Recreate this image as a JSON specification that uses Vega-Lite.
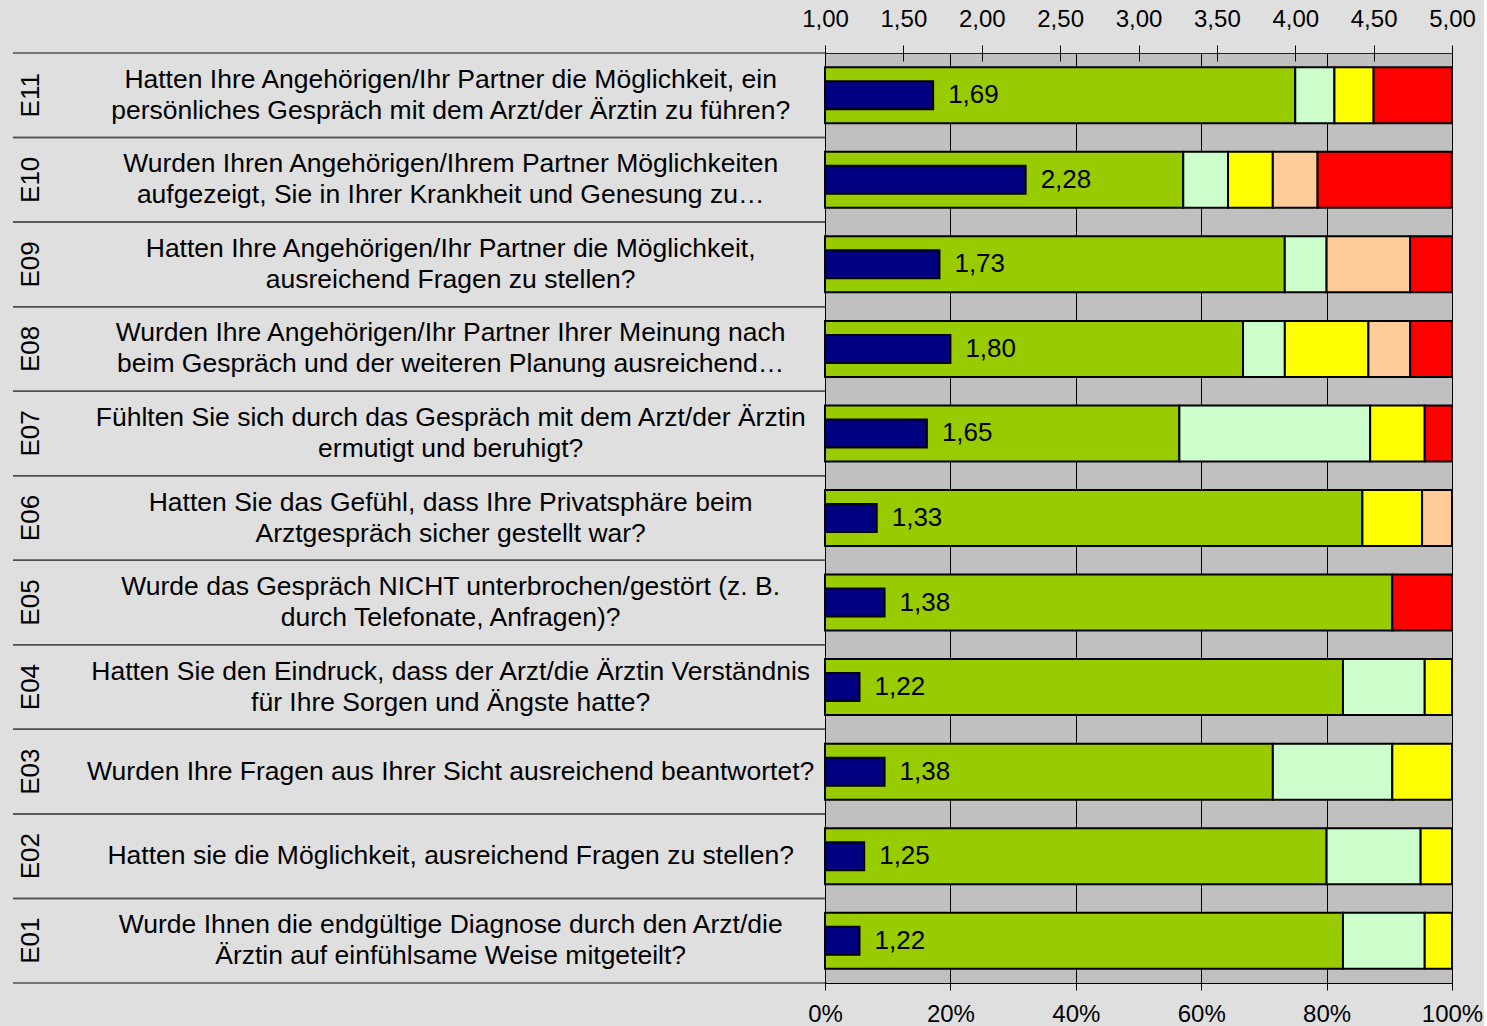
{
  "$schema": "https://vega.github.io/schema/vega-lite/v6.json",
  "background": "#dfdfdf",
  "padding": {"left": 12, "top": 6, "right": 0, "bottom": 0},
  "autosize": {"type": "pad"},
  "config": {
    "font": "Liberation Sans",
    "view": {"stroke": null},
    "locale": {"number": {"decimal": ",", "thousands": ".", "grouping": [3], "currency": ["", " €"]}},
    "axis": {"labelFont": "Liberation Sans", "labelFontSize": 24, "labelColor": "#000", "tickColor": "#000", "domainColor": "#000"}
  },
  "datasets": {
    "items": [
      {"code": "E11", "question": "Hatten Ihre Angehörigen/Ihr Partner die Möglichkeit, ein\npersönliches Gespräch mit dem Arzt/der Ärztin zu führen?", "mean": 1.69},
      {"code": "E10", "question": "Wurden Ihren Angehörigen/Ihrem Partner Möglichkeiten\naufgezeigt, Sie in Ihrer Krankheit und Genesung zu…", "mean": 2.28},
      {"code": "E09", "question": "Hatten Ihre Angehörigen/Ihr Partner die Möglichkeit,\nausreichend Fragen zu stellen?", "mean": 1.73},
      {"code": "E08", "question": "Wurden Ihre Angehörigen/Ihr Partner Ihrer Meinung nach\nbeim Gespräch und der weiteren Planung ausreichend…", "mean": 1.80},
      {"code": "E07", "question": "Fühlten Sie sich durch das Gespräch mit dem Arzt/der Ärztin\nermutigt und beruhigt?", "mean": 1.65},
      {"code": "E06", "question": "Hatten Sie das Gefühl, dass Ihre Privatsphäre beim\nArztgespräch sicher gestellt war?", "mean": 1.33},
      {"code": "E05", "question": "Wurde das Gespräch NICHT unterbrochen/gestört (z. B.\ndurch Telefonate, Anfragen)?", "mean": 1.38},
      {"code": "E04", "question": "Hatten Sie den Eindruck, dass der Arzt/die Ärztin Verständnis\nfür Ihre Sorgen und Ängste hatte?", "mean": 1.22},
      {"code": "E03", "question": "Wurden Ihre Fragen aus Ihrer Sicht ausreichend beantwortet?", "mean": 1.38},
      {"code": "E02", "question": "Hatten sie die Möglichkeit, ausreichend Fragen zu stellen?", "mean": 1.25},
      {"code": "E01", "question": "Wurde Ihnen die endgültige Diagnose durch den Arzt/die\nÄrztin auf einfühlsame Weise mitgeteilt?", "mean": 1.22}
    ],
    "dist": [
      {"code": "E11", "cat": 1, "share": 0.75},
      {"code": "E11", "cat": 2, "share": 0.0625},
      {"code": "E11", "cat": 3, "share": 0.0625},
      {"code": "E11", "cat": 5, "share": 0.125},
      {"code": "E10", "cat": 1, "share": 0.5714},
      {"code": "E10", "cat": 2, "share": 0.0714},
      {"code": "E10", "cat": 3, "share": 0.0714},
      {"code": "E10", "cat": 4, "share": 0.0714},
      {"code": "E10", "cat": 5, "share": 0.2143},
      {"code": "E09", "cat": 1, "share": 0.7333},
      {"code": "E09", "cat": 2, "share": 0.0667},
      {"code": "E09", "cat": 4, "share": 0.1333},
      {"code": "E09", "cat": 5, "share": 0.0667},
      {"code": "E08", "cat": 1, "share": 0.6667},
      {"code": "E08", "cat": 2, "share": 0.0667},
      {"code": "E08", "cat": 3, "share": 0.1333},
      {"code": "E08", "cat": 4, "share": 0.0667},
      {"code": "E08", "cat": 5, "share": 0.0666},
      {"code": "E07", "cat": 1, "share": 0.5652},
      {"code": "E07", "cat": 2, "share": 0.3043},
      {"code": "E07", "cat": 3, "share": 0.087},
      {"code": "E07", "cat": 5, "share": 0.0435},
      {"code": "E06", "cat": 1, "share": 0.8571},
      {"code": "E06", "cat": 3, "share": 0.0952},
      {"code": "E06", "cat": 4, "share": 0.0477},
      {"code": "E05", "cat": 1, "share": 0.9048},
      {"code": "E05", "cat": 5, "share": 0.0952},
      {"code": "E04", "cat": 1, "share": 0.8261},
      {"code": "E04", "cat": 2, "share": 0.1304},
      {"code": "E04", "cat": 3, "share": 0.0435},
      {"code": "E03", "cat": 1, "share": 0.7143},
      {"code": "E03", "cat": 2, "share": 0.1905},
      {"code": "E03", "cat": 3, "share": 0.0952},
      {"code": "E02", "cat": 1, "share": 0.8},
      {"code": "E02", "cat": 2, "share": 0.15},
      {"code": "E02", "cat": 3, "share": 0.05},
      {"code": "E01", "cat": 1, "share": 0.8261},
      {"code": "E01", "cat": 2, "share": 0.1304},
      {"code": "E01", "cat": 3, "share": 0.0435}
    ]
  },
  "spacing": 0,
  "bounds": "flush",
  "hconcat": [
    {
      "width": 812,
      "height": 930,
      "data": {"name": "items"},
      "layer": [
        {
          "mark": {"type": "rule", "color": "#505050", "strokeWidth": 1.5},
          "encoding": {
            "y": {"field": "code", "type": "nominal", "bandPosition": 0, "sort": ["E11","E10","E09","E08","E07","E06","E05","E04","E03","E02","E01"], "axis": null, "scale": {"paddingInner": 0, "paddingOuter": 0}}
          }
        },
        {
          "mark": {"type": "rule", "color": "#505050", "strokeWidth": 1.5},
          "encoding": {
            "y": {"field": "code", "type": "nominal", "bandPosition": 1, "sort": ["E11","E10","E09","E08","E07","E06","E05","E04","E03","E02","E01"], "axis": null, "scale": {"paddingInner": 0, "paddingOuter": 0}}
          }
        },
        {
          "mark": {"type": "text", "angle": 270, "fontSize": 26, "align": "center", "baseline": "middle", "color": "#000"},
          "encoding": {
            "y": {"field": "code", "type": "nominal", "sort": ["E11","E10","E09","E08","E07","E06","E05","E04","E03","E02","E01"], "axis": null, "scale": {"paddingInner": 0, "paddingOuter": 0}},
            "x": {"datum": 2.2, "type": "quantitative", "scale": {"domain": [0, 100], "nice": false}, "axis": null},
            "text": {"field": "code"}
          }
        },
        {
          "mark": {"type": "text", "fontSize": 26.5, "align": "center", "baseline": "middle", "lineBreak": "\n", "lineHeight": 31, "color": "#000",
                   "dy": {"expr": "indexof(datum.question, '\\n') >= 0 ? -15.5 : 0"}},
          "encoding": {
            "y": {"field": "code", "type": "nominal", "sort": ["E11","E10","E09","E08","E07","E06","E05","E04","E03","E02","E01"], "axis": null, "scale": {"paddingInner": 0, "paddingOuter": 0}},
            "x": {"datum": 53.9, "type": "quantitative", "scale": {"domain": [0, 100], "nice": false}, "axis": null},
            "text": {"field": "question"}
          }
        }
      ]
    },
    {
      "width": 627,
      "height": 930,
      "view": {"fill": "#c0c0c0", "stroke": "#222222", "strokeWidth": 1},
      "layer": [
        {
          "data": {"name": "dist"},
          "mark": {"type": "bar", "size": 56, "stroke": "#000", "strokeWidth": 2},
          "encoding": {
            "y": {"field": "code", "type": "nominal", "sort": ["E11","E10","E09","E08","E07","E06","E05","E04","E03","E02","E01"], "axis": null, "scale": {"paddingInner": 0, "paddingOuter": 0}},
            "x": {"field": "share", "type": "quantitative", "stack": "zero", "scale": {"domain": [0, 1], "nice": false},
                  "axis": {"orient": "bottom", "format": "0%", "values": [0, 0.2, 0.4, 0.6, 0.8, 1], "tickSize": 7, "labelPadding": 12, "grid": true, "gridColor": "#000", "gridOpacity": 1, "gridWidth": 1, "labelFlush": false, "labelOverlap": false, "domain": true, "title": null}},
            "color": {"field": "cat", "type": "ordinal", "scale": {"domain": [1, 2, 3, 4, 5], "range": ["#99cc00", "#ccffcc", "#ffff00", "#ffcc99", "#ff0000"]}, "legend": null},
            "order": {"field": "cat", "type": "quantitative", "sort": "ascending"}
          }
        },
        {
          "data": {"name": "items"},
          "encoding": {
            "y": {"field": "code", "type": "nominal", "sort": ["E11","E10","E09","E08","E07","E06","E05","E04","E03","E02","E01"], "axis": null, "scale": {"paddingInner": 0, "paddingOuter": 0}},
            "x": {"field": "mean", "type": "quantitative", "scale": {"domain": [1, 5], "nice": false, "zero": false},
                  "axis": {"orient": "top", "format": ".2f", "values": [1, 1.5, 2, 2.5, 3, 3.5, 4, 4.5, 5], "offset": -8, "tickSize": 16, "labelPadding": 14, "domain": false, "grid": false, "labelFlush": false, "labelOverlap": false, "title": null}}
          },
          "layer": [
            {
              "mark": {"type": "bar", "size": 28, "color": "#000080", "stroke": "#000", "strokeWidth": 2},
              "encoding": {"x2": {"datum": 1}}
            },
            {
              "mark": {"type": "text", "align": "left", "baseline": "middle", "dx": 15, "fontSize": 26, "color": "#000"},
              "encoding": {"text": {"field": "mean", "type": "quantitative", "format": ".2f"}}
            }
          ]
        }
      ],
      "resolve": {"scale": {"x": "independent"}, "axis": {"x": "independent"}}
    }
  ]
}
